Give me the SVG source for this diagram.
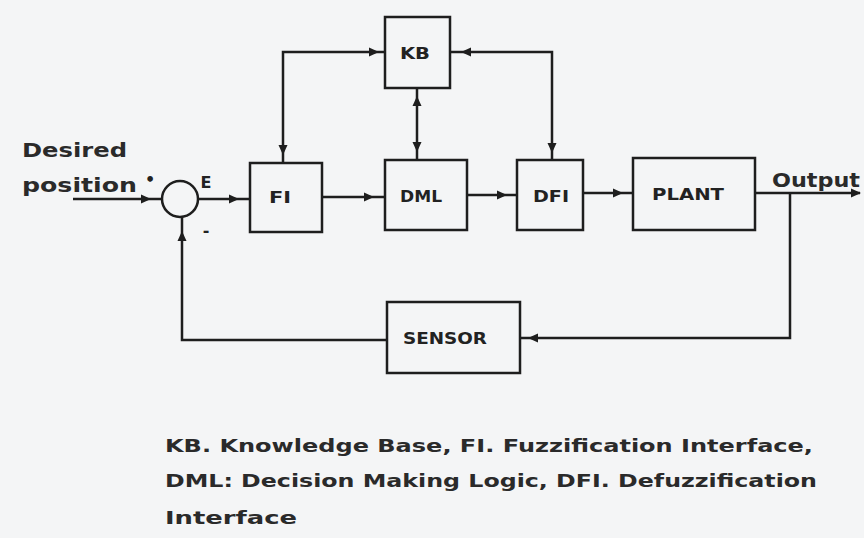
<svg xmlns="http://www.w3.org/2000/svg" xmlns:xlink="http://www.w3.org/1999/xlink" width="864" height="538" viewBox="0 0 864 538">
<style>
  .bg{fill:#f4f5f6}
  .box{fill:none;stroke:#1e1e1e;stroke-width:2.5}
  .ln{fill:none;stroke:#1e1e1e;stroke-width:2.5}
  .lbl{font-family:"DejaVu Sans",sans-serif;font-size:16px;font-weight:bold;fill:#222;text-anchor:middle}
  .big{font-family:"DejaVu Sans",sans-serif;font-size:20px;font-weight:bold;fill:#2a2a2a}
  .cap{font-family:"DejaVu Sans",sans-serif;font-size:17px;font-weight:bold;fill:#2a2a2a}
</style>
<defs>
  <path id="ah" d="M0,0 L-10,-4.5 L-10,4.5 Z" fill="#1e1e1e"/>
</defs>
<rect class="bg" x="0" y="0" width="864" height="538"/>

<g id="sum">
  <circle class="box" cx="180" cy="199" r="18"/>
  <text class="lbl" x="150" y="185" font-size="18">•</text>
  <text class="lbl" x="206" y="188" font-size="15">E</text>
  <text class="lbl" x="206" y="236" font-size="18">-</text>
</g>
<g id="KB">
  <rect class="box" x="385" y="17" width="65" height="71"/>
  <text class="lbl" x="415" y="59" textLength="30" lengthAdjust="spacingAndGlyphs">KB</text>
</g>
<g id="FI">
  <rect class="box" x="250" y="163" width="72" height="69"/>
  <text class="lbl" x="280" y="203" textLength="22" lengthAdjust="spacingAndGlyphs">FI</text>
</g>
<g id="DML">
  <rect class="box" x="385" y="160" width="82" height="70"/>
  <text class="lbl" x="421" y="202" textLength="42" lengthAdjust="spacingAndGlyphs">DML</text>
</g>
<g id="DFI">
  <rect class="box" x="517" y="160" width="66" height="70"/>
  <text class="lbl" x="551" y="202" textLength="36" lengthAdjust="spacingAndGlyphs">DFI</text>
</g>
<g id="PLANT">
  <rect class="box" x="633" y="158" width="122" height="72"/>
  <text class="lbl" x="688" y="200" textLength="72" lengthAdjust="spacingAndGlyphs">PLANT</text>
</g>
<g id="SENSOR">
  <rect class="box" x="387" y="302" width="133" height="71"/>
  <text class="lbl" x="445" y="344" textLength="84" lengthAdjust="spacingAndGlyphs">SENSOR</text>
</g>

<g id="connectors">
  <path class="ln" d="M73,199 H162"/>
  <use xlink:href="#ah" transform="translate(151,199)"/>
  <path class="ln" d="M198,199 H250"/>
  <use xlink:href="#ah" transform="translate(239,199)"/>
  <path class="ln" d="M322,197 H385"/>
  <use xlink:href="#ah" transform="translate(374,197)"/>
  <path class="ln" d="M467,195 H517"/>
  <use xlink:href="#ah" transform="translate(507,195)"/>
  <path class="ln" d="M583,193 H633"/>
  <use xlink:href="#ah" transform="translate(623,193)"/>
  <path class="ln" d="M755,193 H860"/>
  <use xlink:href="#ah" transform="translate(861,193)"/>
  <path class="ln" d="M790,193 V338 H520"/>
  <use xlink:href="#ah" transform="translate(528,338) rotate(180)"/>
  <path class="ln" d="M387,340 H182 V217"/>
  <use xlink:href="#ah" transform="translate(182,231) rotate(-90)"/>
  <path class="ln" d="M283,163 V52 H385"/>
  <use xlink:href="#ah" transform="translate(379,52)"/>
  <use xlink:href="#ah" transform="translate(283,155) rotate(90)"/>
  <path class="ln" d="M450,52 H552 V160"/>
  <use xlink:href="#ah" transform="translate(461,52) rotate(180)"/>
  <use xlink:href="#ah" transform="translate(552,153) rotate(90)"/>
  <path class="ln" d="M417,88 V160"/>
  <use xlink:href="#ah" transform="translate(417,96) rotate(-90)"/>
  <use xlink:href="#ah" transform="translate(417,152) rotate(90)"/>
</g>

<g id="labels">
  <text class="big" x="22" y="157" textLength="105" lengthAdjust="spacingAndGlyphs">Desired</text>
  <text class="big" x="22" y="192" textLength="115" lengthAdjust="spacingAndGlyphs">position</text>
  <text class="big" x="772" y="187" textLength="88" lengthAdjust="spacingAndGlyphs">Output</text>
</g>

<g id="caption">
  <text class="cap" x="165" y="452" textLength="648" lengthAdjust="spacingAndGlyphs">KB. Knowledge Base, FI. Fuzzification Interface,</text>
  <text class="cap" x="165" y="487" textLength="652" lengthAdjust="spacingAndGlyphs">DML: Decision Making Logic, DFI. Defuzzification</text>
  <text class="cap" x="165" y="524" textLength="132" lengthAdjust="spacingAndGlyphs">Interface</text>
</g>
</svg>
